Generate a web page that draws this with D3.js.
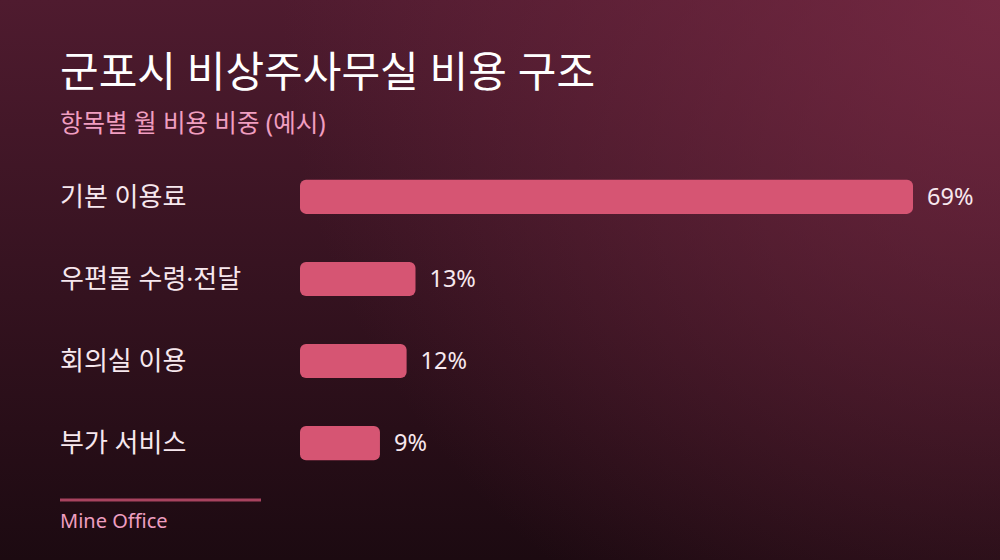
<!DOCTYPE html>
<html>
<head>
<meta charset="utf-8">
<script src="https://cdn.jsdelivr.net/npm/d3@7"></script>
<style>
  html, body { margin: 0; padding: 0; background: #2a0f1b; }
  svg { display: block; font-family: "Noto Sans", "Noto Sans CJK KR", sans-serif; }
</style>
</head>
<body>
<svg id="chart" width="1000" height="560"></svg>
<script>
var categories = ["기본 이용료", "우편물 수령·전달", "회의실 이용", "부가 서비스"];
var shares = [69, 13, 12, 9];
var valueLabels = ["69%", "13%", "12%", "9%"];

var svg = d3.select('#chart');
var defs = svg.append('defs');

var bg = defs.append('linearGradient').attr('id', 'bg')
  .attr('x1', 0).attr('y1', 0).attr('x2', 0).attr('y2', 1);
bg.append('stop').attr('offset', '0%').attr('stop-color', '#4f1b2f');
bg.append('stop').attr('offset', '100%').attr('stop-color', '#1c0a11');

var glow = defs.append('radialGradient').attr('id', 'glow')
  .attr('gradientUnits', 'userSpaceOnUse')
  .attr('cx', 1000).attr('cy', 0).attr('r', 720);
glow.append('stop').attr('offset', '0%').attr('stop-color', '#7e2c47').attr('stop-opacity', 0.75);
glow.append('stop').attr('offset', '100%').attr('stop-color', '#7e2c47').attr('stop-opacity', 0);

svg.append('rect').attr('width', 1000).attr('height', 560).style('fill', 'url(#bg)');
svg.append('rect').attr('width', 1000).attr('height', 560).style('fill', 'url(#glow)');

// title block
svg.append('text')
  .attr('x', 60).attr('y', 87)
  .style('font-size', '42px').style('font-weight', 400)
  .style('fill', '#ffffff')
  .text('군포시 비상주사무실 비용 구조');

svg.append('text')
  .attr('x', 60).attr('y', 132)
  .style('font-size', '24.5px')
  .style('fill', '#f09ec0')
  .text('항목별 월 비용 비중 (예시)');

/* BARS */

var x = d3.scaleLinear()
  .domain([0, d3.max(shares)])
  .range([300, 913]);

var y = d3.scaleBand()
  .domain(categories)
  .range([156, 484])
  .paddingInner(0.585)
  .paddingOuter(0.29);

var rows = svg.append('g').selectAll('g.row')
  .data(categories)
  .enter()
  .append('g')
  .classed('row', true);

rows.append('rect')
  .attr('x', x(0))
  .attr('y', d => y(d))
  .attr('width', (d, i) => x(shares[i]) - x(0))
  .attr('height', y.bandwidth())
  .attr('rx', 6)
  .style('fill', '#d65573');

rows.append('text')
  .attr('x', 60)
  .attr('y', d => y(d) + y.bandwidth() / 2)
  .attr('dy', '0.35em')
  .style('font-size', '26px')
  .style('fill', '#f7e8ee')
  .text(d => d);

rows.append('text')
  .attr('x', (d, i) => x(shares[i]) + 14)
  .attr('y', d => y(d) + y.bandwidth() / 2)
  .attr('dy', '0.35em')
  .style('font-size', '23.5px')
  .style('fill', '#f7e8ee')
  .text((d, i) => valueLabels[i]);

// footer
svg.append('line')
  .attr('x1', 60).attr('x2', 261)
  .attr('y1', 500).attr('y2', 500)
  .style('stroke', '#a8435f')
  .style('stroke-width', 3);

svg.append('text')
  .attr('x', 60).attr('y', 528)
  .style('font-size', '20px')
  .style('fill', '#ee9ec0')
  .text('Mine Office');
</script>
</body>
</html>
